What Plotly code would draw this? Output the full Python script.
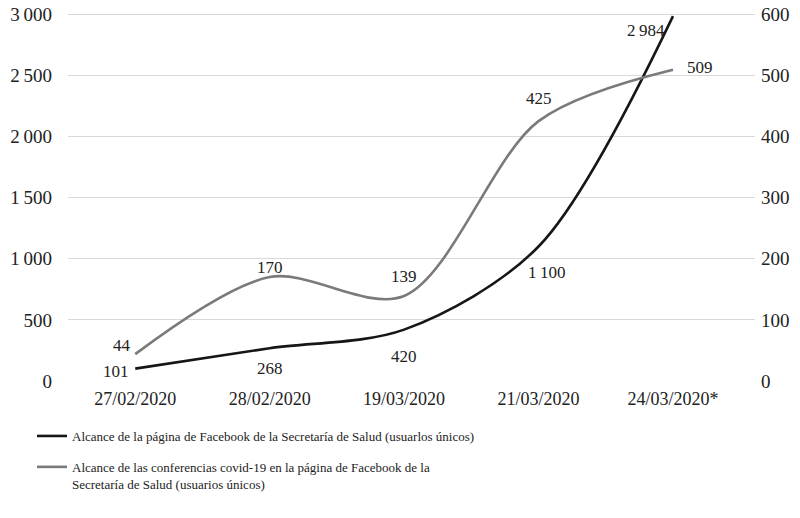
import plotly.graph_objects as go

dates = ["27/02/2020", "28/02/2020", "19/03/2020", "21/03/2020", "24/03/2020*"]
pagina = [101, 268, 420, 1100, 2984]
conferencias = [44, 170, 139, 425, 509]
pagina_labels = ["101", "268", "420", "1\u2009100", "2\u2009984"]
conf_labels = ["44", "170", "139", "425", "509"]
left_ticks = [0, 500, 1000, 1500, 2000, 2500, 3000]
left_ticktext = ["0", "500", "1\u2009000", "1\u2009500", "2\u2009000", "2\u2009500", "3\u2009000"]
right_ticks = [0, 100, 200, 300, 400, 500, 600]
name_pagina = "Alcance de la página de Facebook de la Secretaría de Salud (usuarlos únicos)"
name_conf = "Alcance de las conferencias covid-19 en la página de Facebook de la<br>Secretaría de Salud (usuarios únicos)"

FONT = "Liberation Serif"
fig = go.Figure()
fig.add_trace(go.Scatter(
    x=dates, y=pagina, mode="lines", name=name_pagina, legendgroup="a",
    line=dict(color="#161616", width=2.6, shape="spline", smoothing=0.9),
    cliponaxis=False, yaxis="y"))
fig.add_trace(go.Scatter(
    x=dates, y=conferencias, mode="lines", name=name_conf, legendgroup="b",
    line=dict(color="#7a7a7a", width=2.6, shape="spline", smoothing=0.9),
    cliponaxis=False, yaxis="y2"))

# label placement (anchor, shifts) per point
p_pos = [("right", "middle", -4, -3), ("center", "middle", 0, -20), ("center", "middle", 0, -27),
         ("center", "middle", 8, -26), ("right", "middle", -6, -14)]
c_pos = [("right", "middle", -2, 9), ("center", "middle", 0, 10), ("center", "middle", 0, 20),
         ("center", "middle", 0, 23), ("left", "middle", 12, 2)]
ann = []
for d, v, t, (xa, ya, xs, ys) in zip(dates, pagina, pagina_labels, p_pos):
    ann.append(dict(x=d, y=v, xref="x", yref="y", text=t, showarrow=False,
                    xanchor=xa, yanchor=ya, xshift=xs, yshift=ys,
                    font=dict(family=FONT, size=17, color="#222222")))
for d, v, t, (xa, ya, xs, ys) in zip(dates, conferencias, conf_labels, c_pos):
    ann.append(dict(x=d, y=v, xref="x", yref="y2", text=t, showarrow=False,
                    xanchor=xa, yanchor=ya, xshift=xs, yshift=ys,
                    font=dict(family=FONT, size=17, color="#222222")))

fig.update_layout(
    width=800, height=518,
    margin=dict(l=68, r=45, t=8, b=137, autoexpand=False),
    plot_bgcolor="white", paper_bgcolor="white",
    font=dict(family=FONT, size=17, color="#222222"),
    xaxis=dict(type="category", range=[-0.5, 4.61], showgrid=False, zeroline=False,
               showline=False, ticks="", tickfont=dict(size=18), tickangle=0,
               ticklabelstandoff=5, automargin=False),
    yaxis=dict(range=[0, 3050], tickvals=left_ticks, ticktext=left_ticktext,
               showgrid=True, gridcolor="#d9d9d9", gridwidth=1.3, zeroline=False,
               ticks="", ticklabelstandoff=15, tickfont=dict(size=19), automargin=False,
               ticklabeloverflow="allow"),
    yaxis2=dict(range=[0, 610], tickvals=right_ticks, overlaying="y", side="right",
                showgrid=False, zeroline=False, ticks="", ticklabelstandoff=5,
                tickfont=dict(size=19), automargin=False, ticklabeloverflow="allow"),
    showlegend=True,
    legend=dict(xref="container", yref="container", x=32 / 800, y=1 - 421 / 518,
                xanchor="left", yanchor="top", orientation="v",
                traceorder="grouped", tracegroupgap=11, valign="top",
                font=dict(family=FONT, size=13, color="#222222"),
                bgcolor="rgba(0,0,0,0)"),
    annotations=ann,
)
fig.write_html("out.html", config={"displayModeBar": False},
               post_script="document.body.style.margin='0';document.body.style.overflow='hidden';")
